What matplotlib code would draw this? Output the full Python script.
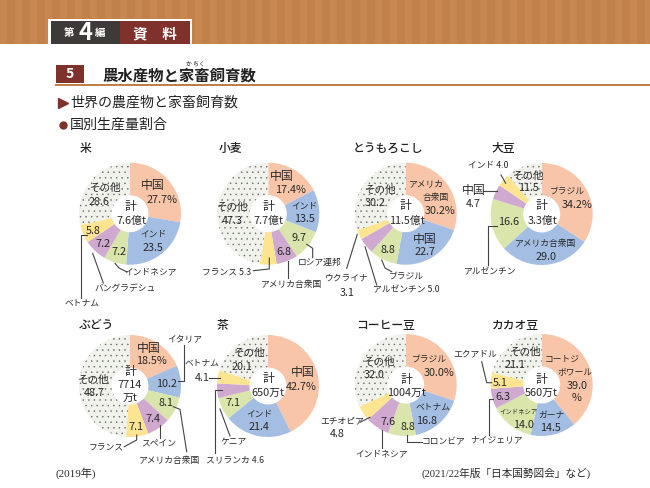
import matplotlib
matplotlib.use('Agg')
import matplotlib.pyplot as plt
import matplotlib.patches as mpatches

plt.rcParams['font.family'] = ['Noto Sans CJK JP', 'DejaVu Sans']
plt.rcParams['hatch.linewidth'] = 0.3

# share of each country, clockwise from 12 o'clock (last one = その他)
rice = [27.7, 23.5, 7.2, 7.2, 5.8, 28.6]
wheat = [17.4, 13.5, 9.7, 6.8, 5.3, 47.3]
corn = [30.2, 22.7, 8.8, 5.0, 3.1, 30.2]
soy = [34.2, 29.0, 16.6, 4.7, 4.0, 11.5]
grape = [18.5, 10.2, 8.1, 7.4, 7.1, 48.7]
tea = [42.7, 21.4, 7.1, 4.6, 4.1, 20.1]
coffee = [30.0, 16.8, 8.8, 7.6, 4.8, 32.0]
cacao = [39.0, 14.5, 14.0, 6.3, 5.1, 21.1]

colors = ['#f8c5a8', '#a3bde3', '#d9e5ab', '#cfa9cf', '#fde491', '#f1f2ec']
INK = '#2a2a2a'
W, H = 650, 488

fig = plt.figure(figsize=(6.5, 4.88), dpi=100)
ax = fig.add_axes([0, 0, 1, 1])


def txt(x, y, s, size=7.5, color=INK, **kw):
    kw.setdefault('ha', 'center')
    ax.text(x, H - y, s, fontsize=size, color=color, va='center', **kw)


def line(pts, color='#444444', lw=0.8):
    ax.plot([p[0] for p in pts], [H - p[1] for p in pts], color=color, lw=lw, zorder=5)


def box(x0, y0, x1, y1, color, z=1):
    ax.add_patch(mpatches.Rectangle((x0, H - y1), x1 - x0, y1 - y0, fc=color, ec='none', zorder=z))


def donut(cx, cy, vals):
    wedges, _ = ax.pie(vals, colors=colors, startangle=90, counterclock=False, radius=51,
                       center=(cx, H - cy), frame=True,
                       wedgeprops=dict(width=32.5, linewidth=0))
    wedges[-1].set_edgecolor('#5f6a60')
    wedges[-1].set_linewidth(0)
    wedges[-1].set_hatch('...')


# header
box(0, 0, W, 44, '#c2814a')
for sx in range(0, W, 15):
    box(sx, 0, sx + 7, 44, '#c68750', 2)
box(48, 19, 192, 44, 'white', 3)
box(51, 21, 120, 44, '#3f3a3a', 4)
box(120, 21, 190, 44, '#7f312b', 4)
txt(69, 33, '第', 7.5, 'white', weight='bold', zorder=6)
txt(85, 33, '4', 17, 'white', weight='bold', zorder=6)
txt(100, 33, '編', 7.5, 'white', weight='bold', zorder=6)
txt(155, 33, '資　料', 10.5, 'white', weight='bold', zorder=6)

box(56, 65, 84, 83, '#7f312b')
box(55, 83.5, W, 86, '#c07f47')
txt(70, 74, '5', 10, 'white', weight='bold', zorder=6)
txt(102, 76, '農水産物と家畜飼育数', 11.1, '#222222', ha='left', weight='bold')
txt(195, 64, 'か ちく', 4.2, '#222222')
ax.plot([63], [H - 103], marker='>', ms=7, color='#7f312b', zorder=5)
txt(70, 103, '世界の農産物と家畜飼育数', 10.1, '#222222', ha='left')
ax.plot([62.5], [H - 125], marker='o', ms=5, color='#7f312b', zorder=5)
txt(70, 125, '国別生産量割合', 10.1, '#222222', ha='left')

# donuts
donut(130, 213.7, rice)
donut(268.3, 213.7, wheat)
donut(405.7, 213.7, corn)
donut(541.7, 214, soy)
donut(130, 386, grape)
donut(268, 386, tea)
donut(405.7, 385, coffee)
donut(541.7, 385, cacao)

# chart titles
for x, y, s in [(86, 148.3, '米'), (230, 148.3, '小麦'), (388.3, 149, 'とうもろこし'), (503.3, 148.3, '大豆'),
                (96.7, 325, 'ぶどう'), (222.7, 325, '茶'), (386, 325, 'コーヒー豆'), (515, 325, 'カカオ豆')]:
    txt(x, y, s, 8.5, '#222222', weight='medium')

# labels: kanji = 中国/計, other = その他, num = figures, kana = country names in katakana
kanji = [(152.7, 185.7, '中国'), (130, 206.7, '計'),
         (282, 176.7, '中国'), (268.3, 206.7, '計'),
         (425, 239.3, '中国'), (405.7, 206, '計'),
         (541.7, 206, '計'), (473.3, 190.3, '中国'),
         (148.3, 348.3, '中国'), (130, 371, '計'),
         (302.3, 372.7, '中国'), (268, 378.3, '計'),
         (406, 379.3, '計'), (541.7, 379.3, '計')]
other = [(105.7, 188.3), (232.7, 207.3), (381, 190), (528.3, 175.7),
         (94, 380), (250, 353.3), (379.3, 361.7), (525.7, 351.7)]
num = [(161.7, 200, '27.7%'), (152.7, 247.7, '23.5'), (119.3, 252.3, '7.2'), (103.3, 244, '7.2'),
       (93, 230.7, '5.8'), (98.7, 201.7, '28.6'), (131, 220.7, '7.6億t'),
       (290, 190, '17.4%'), (304.3, 219, '13.5'), (299.3, 237.7, '9.7'), (283.7, 252.3, '6.8'),
       (232.7, 221, '47.3'), (268.7, 220.7, '7.7億t'),
       (440.3, 211, '30.2%'), (425, 252.3, '22.7'), (388.3, 250, '8.8'), (375.3, 203.3, '30.2'),
       (406.7, 220.7, '11.5億t'), (347, 293, '3.1'),
       (576.7, 205, '34.2%'), (546, 256.7, '29.0'), (508.3, 222.3, '16.6'), (473.3, 203.7, '4.7'),
       (528.3, 188.3, '11.5'), (542.3, 220.7, '3.3億t'),
       (151, 361, '18.5%'), (166.7, 384, '10.2'), (166, 403.3, '8.1'), (153.3, 419, '7.4'),
       (136, 426.7, '7.1'), (94, 393.3, '48.7'), (130, 385, '7714'), (130, 398.3, '万t'),
       (301.7, 386.7, '42.7%'), (259, 427.3, '21.4'), (233.3, 403.3, '7.1'), (241.7, 366.7, '20.1'),
       (268, 392.7, '650万t'), (202.3, 377.7, '4.1'),
       (439.3, 372.7, '30.0%'), (426.7, 420.7, '16.8'), (407.7, 426.7, '8.8'), (388.3, 421.7, '7.6'),
       (374, 375, '32.0'), (406, 392.7, '1004万t'), (337.7, 434.3, '4.8'),
       (576.7, 386, '39.0'), (576.7, 398.3, '%'), (550.7, 428.3, '14.5'), (523.3, 425, '14.0'),
       (503.3, 396.7, '6.3'), (500, 382.7, '5.1'), (515, 365, '21.1'), (541.7, 392.7, '560万t')]
kana = [(153.3, 234.3, 'インド'), (151, 271.7, 'インドネシア'), (125, 288.3, 'バングラデシュ'), (82.3, 303.3, 'ベトナム'),
        (304.3, 206, 'インド'), (226.7, 272.3, 'フランス 5.3'), (291.7, 284.3, 'アメリカ合衆国'), (320, 262, 'ロシア連邦'),
        (426, 184, 'アメリカ'), (435.7, 197.3, '合衆国'), (406, 275.7, 'ブラジル'), (406.7, 290, 'アルゼンチン 5.0'),
        (346.5, 278, 'ウクライナ'),
        (567.3, 191, 'ブラジル'), (546, 243.3, 'アメリカ合衆国'), (488.3, 165.7, 'インド 4.0'), (490, 271.7, 'アルゼンチン'),
        (185, 338.3, 'イタリア'), (159, 444, 'スペイン'), (106.7, 448.3, 'フランス'), (170, 460, 'アメリカ合衆国'),
        (259.3, 414, 'インド'), (202.3, 363.3, 'ベトナム'), (234, 442.3, 'ケニア'), (235, 460, 'スリランカ 4.6'),
        (429, 359, 'ブラジル'), (432.7, 406.7, 'ベトナム'), (341.7, 421, 'エチオピア'), (381.7, 454.3, 'インドネシア'),
        (443.3, 441.7, 'コロンビア'),
        (561.7, 359.3, 'コートジ'), (575, 372.3, 'ボワール'), (551, 415, 'ガーナ'),
        (475, 354.3, 'エクアドル'), (496.7, 440, 'ナイジェリア')]
for x, y, s in kanji:
    txt(x, y, s, 8.6, zorder=6)
for x, y in other:
    txt(x, y, 'その他', 7.6, zorder=6)
for x, y, s in num:
    txt(x, y, s, 7.8, zorder=6)
for x, y, s in kana:
    txt(x, y, s, 6.3, zorder=6)
txt(518.3, 411, 'インドネシア', 4.6, zorder=6)

# leader lines
leaders = [
    [(115, 263.3), (119, 268), (127, 272)], [(92.7, 253.3), (103.3, 283)], [(86.7, 235), (81.3, 235), (81.3, 298)],
    [(253.3, 270.7), (269.3, 269), (269.3, 258)], [(288.3, 261), (288.3, 278)],
    [(306.7, 244.3), (312.7, 248.3), (312.7, 257.7)],
    [(381.7, 260), (385, 268), (391.7, 271.7)], [(365, 246.7), (376.7, 285)], [(357.3, 234.3), (346.7, 268.3)],
    [(483.3, 191), (496.7, 191)], [(501, 175), (505.7, 183.3)],
    [(496.7, 225.7), (487.7, 225.7), (487.7, 265)],
    [(178.3, 381), (184.3, 381), (184.3, 345)], [(173.3, 406.7), (180, 409.3), (186.7, 451.7)],
    [(160, 425), (160, 438)], [(124.3, 446.7), (136.7, 440), (136.7, 435)],
    [(209, 378), (220, 378)], [(221.7, 390), (215, 390), (215, 453.3)], [(220, 409), (230, 436)],
    [(360, 422.3), (370, 417.3)], [(381.7, 430), (381.7, 448.3)], [(407.3, 435), (407.3, 441.7), (421.7, 441.7)],
    [(481.7, 361.7), (486.7, 382.7), (491.7, 382.7)], [(493.3, 399.3), (489.3, 399.3), (489.3, 435)],
]
for pts in leaders:
    line(pts)

# notes
serif = ['Liberation Serif', 'Noto Sans CJK JP']
txt(76, 473.3, '(2019年)', 8, family=serif)
txt(506, 473.3, '(2021/22年版「日本国勢図会」など)', 7.7, family=serif)

ax.set_xlim(0, W)
ax.set_ylim(0, H)
ax.set_aspect('auto')
ax.axis('off')
fig.savefig('out.png', dpi=100)
